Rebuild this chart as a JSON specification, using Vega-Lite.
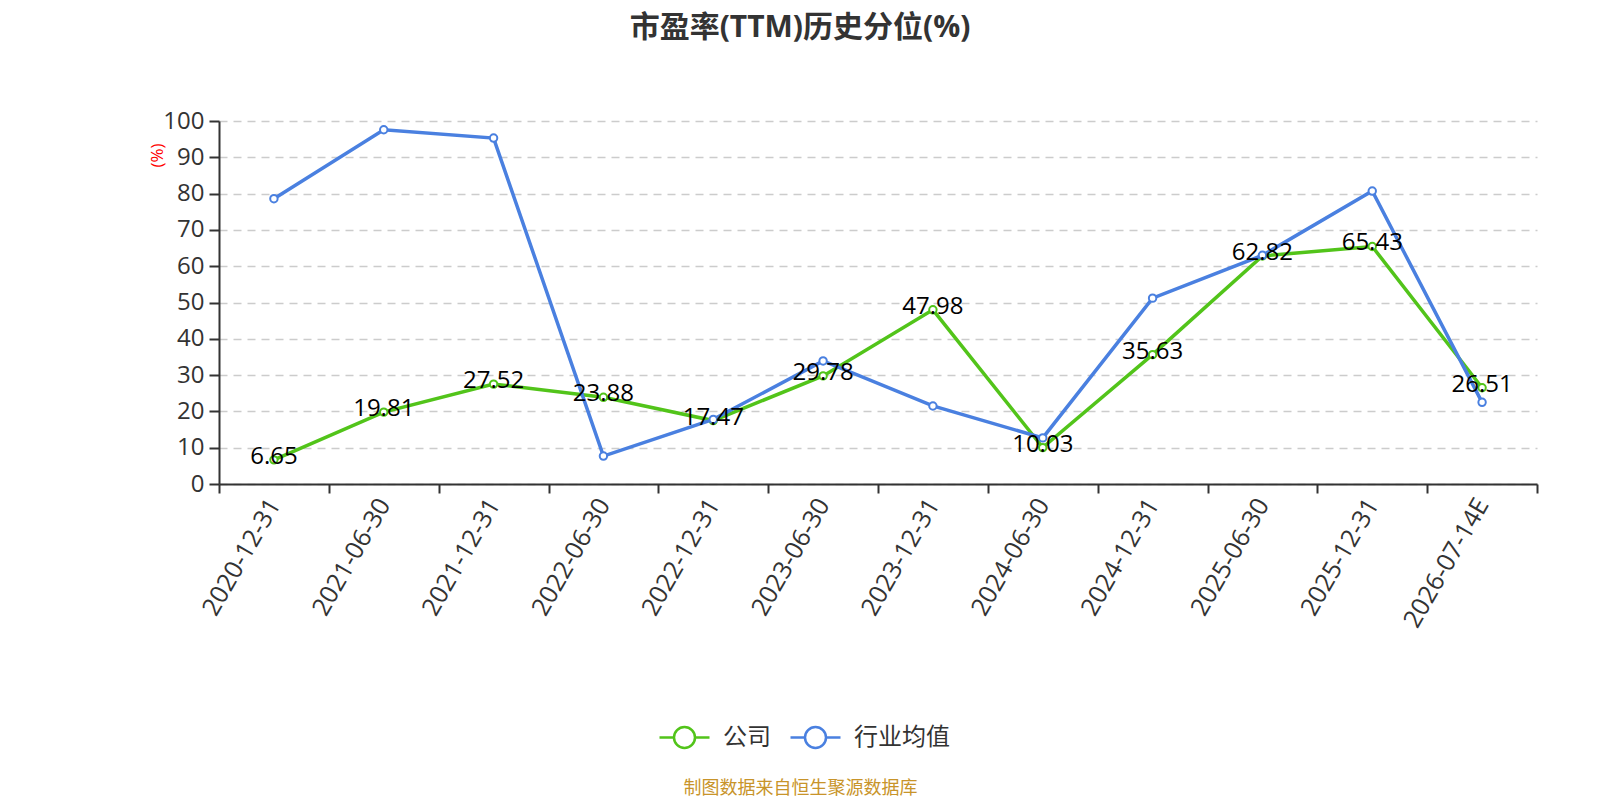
{
  "$schema": "https://vega.github.io/schema/vega-lite/v6.json",
  "width": 1318,
  "height": 363,
  "autosize": "none",
  "padding": {"left": 219, "top": 121, "right": 63, "bottom": 316},
  "background": "white",
  "config": {"view": {"stroke": null}},
  "title": {
    "text": "市盈率(TTM)历史分位(%)",
    "fontSize": 30,
    "fontWeight": "bold",
    "color": "#333333",
    "font": "Open Sans, Noto Sans CJK SC",
    "anchor": "middle",
    "frame": "group",
    "dx": -78,
    "offset": 66
  },
  "data": {
    "values": [
      {"date": "2020-12-31", "series": "公司", "value": 6.65},
      {"date": "2021-06-30", "series": "公司", "value": 19.81},
      {"date": "2021-12-31", "series": "公司", "value": 27.52},
      {"date": "2022-06-30", "series": "公司", "value": 23.88},
      {"date": "2022-12-31", "series": "公司", "value": 17.47},
      {"date": "2023-06-30", "series": "公司", "value": 29.78},
      {"date": "2023-12-31", "series": "公司", "value": 47.98},
      {"date": "2024-06-30", "series": "公司", "value": 10.03},
      {"date": "2024-12-31", "series": "公司", "value": 35.63},
      {"date": "2025-06-30", "series": "公司", "value": 62.82},
      {"date": "2025-12-31", "series": "公司", "value": 65.43},
      {"date": "2026-07-14E", "series": "公司", "value": 26.51},
      {"date": "2020-12-31", "series": "行业均值", "value": 78.6},
      {"date": "2021-06-30", "series": "行业均值", "value": 97.6},
      {"date": "2021-12-31", "series": "行业均值", "value": 95.3},
      {"date": "2022-06-30", "series": "行业均值", "value": 7.7},
      {"date": "2022-12-31", "series": "行业均值", "value": 17.8},
      {"date": "2023-06-30", "series": "行业均值", "value": 33.9},
      {"date": "2023-12-31", "series": "行业均值", "value": 21.5},
      {"date": "2024-06-30", "series": "行业均值", "value": 12.7},
      {"date": "2024-12-31", "series": "行业均值", "value": 51.2},
      {"date": "2025-06-30", "series": "行业均值", "value": 63.0},
      {"date": "2025-12-31", "series": "行业均值", "value": 80.7},
      {"date": "2026-07-14E", "series": "行业均值", "value": 22.5}
    ]
  },
  "encoding": {
    "x": {
      "field": "date",
      "type": "nominal",
      "sort": null,
      "bandPosition": 0.5,
      "scale": {"type": "band", "paddingInner": 0, "paddingOuter": 0},
      "axis": {
        "title": "制图数据来自恒生聚源数据库",
        "titleFontSize": 18,
        "titleFontWeight": "normal",
        "titleColor": "#c8942a",
        "titleFont": "Noto Sans CJK SC",
        "titleX": 581,
        "titleY": 304,
        "titleAnchor": "middle",
        "titleBaseline": "middle",
        "labelAngle": -60,
        "labelFontSize": 25,
        "labelColor": "#333333",
        "labelFont": "Open Sans",
        "labelPadding": 7,
        "labelOverlap": false,
        "tickBand": "extent",
        "tickSize": 9,
        "tickWidth": 2,
        "tickColor": "#333333",
        "domainColor": "#333333",
        "domainWidth": 2,
        "grid": false
      }
    },
    "y": {
      "field": "value",
      "type": "quantitative",
      "scale": {"domain": [0, 100]},
      "axis": {
        "title": "(%)",
        "titleColor": "red",
        "titleFontSize": 17,
        "titleFontWeight": "normal",
        "titleFont": "Open Sans",
        "titleX": -62,
        "titleY": 34,
        "titleAngle": -90,
        "titleAlign": "center",
        "titleBaseline": "middle",
        "values": [0, 10, 20, 30, 40, 50, 60, 70, 80, 90, 100],
        "labelFontSize": 24,
        "labelColor": "#333333",
        "labelFont": "Open Sans",
        "labelPadding": 5,
        "tickSize": 10,
        "tickWidth": 2,
        "tickColor": "#333333",
        "domainColor": "#333333",
        "domainWidth": 2,
        "grid": true,
        "gridColor": "#cccccc",
        "gridWidth": 1.5,
        "gridDash": [8, 6]
      }
    },
    "stroke": {
      "field": "series",
      "type": "nominal",
      "sort": ["公司", "行业均值"],
      "scale": {"domain": ["公司", "行业均值"], "range": ["#52c41a", "#4a80e0"]},
      "legend": {
        "title": null,
        "orient": "none",
        "direction": "horizontal",
        "legendX": 439,
        "legendY": 590,
        "symbolType": "M-1,0H-0.42M0.42,0H1M-0.42,0A0.42,0.42 0 1,1 0.42,0A0.42,0.42 0 1,1 -0.42,0",
        "symbolSize": 2500,
        "symbolStrokeWidth": 2.5,
        "labelFontSize": 24,
        "labelColor": "#333333",
        "labelFont": "Noto Sans CJK SC",
        "labelOffset": 12,
        "columnPadding": 14,
        "encode": {"symbols": {"update": {"fill": {"value": "white"}}}}
      }
    }
  },
  "layer": [
    {
      "transform": [{"filter": "datum.series === '公司'"}],
      "mark": {"type": "line", "strokeWidth": 3.5}
    },
    {
      "transform": [{"filter": "datum.series === '公司'"}],
      "mark": {"type": "point", "shape": "circle", "filled": false, "fill": "white", "fillOpacity": 1, "size": 55, "strokeWidth": 2, "opacity": 1}
    },
    {
      "transform": [{"filter": "datum.series === '行业均值'"}],
      "mark": {"type": "line", "strokeWidth": 3.5}
    },
    {
      "transform": [{"filter": "datum.series === '行业均值'"}],
      "mark": {"type": "point", "shape": "circle", "filled": false, "fill": "white", "fillOpacity": 1, "size": 55, "strokeWidth": 2, "opacity": 1}
    },
    {
      "transform": [{"filter": "datum.series === '公司'"}],
      "mark": {"type": "text", "fontSize": 24, "font": "Open Sans", "color": "black", "baseline": "middle", "align": "center", "dy": -3},
      "encoding": {
        "text": {"field": "value", "type": "quantitative", "format": ".2f"},
        "stroke": {"value": null}
      }
    }
  ]
}
